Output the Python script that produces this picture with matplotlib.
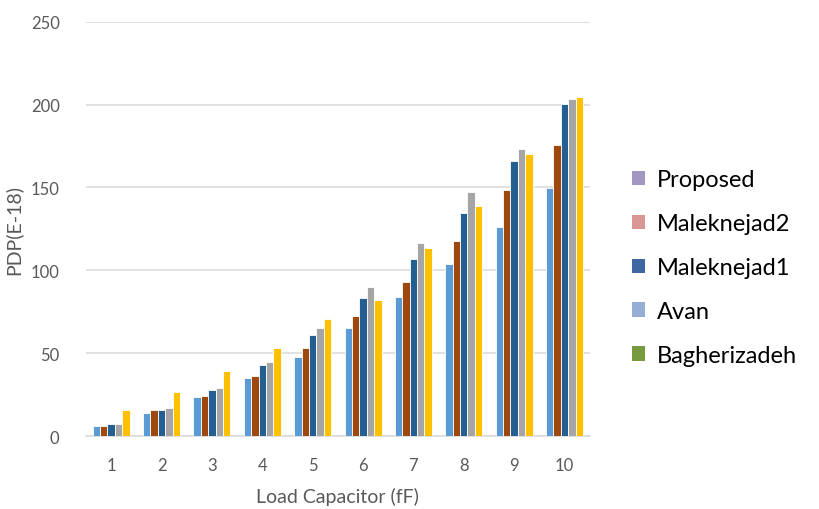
import numpy as np
import matplotlib
matplotlib.use("Agg")
from matplotlib import pyplot as plt
from matplotlib.patches import Patch

plt.rcParams["font.family"] = ["Lato", "DejaVu Sans"]

# data
loads = [1, 2, 3, 4, 5, 6, 7, 8, 9, 10]
s1 = [6.0, 13.7, 23.3, 35.0, 47.8, 65.1, 84.2, 103.6, 126.2, 149.9]
s2 = [6.0, 15.7, 24.3, 36.2, 53.2, 72.6, 92.9, 117.5, 148.7, 175.5]
s3 = [7.2, 15.7, 27.6, 42.7, 60.9, 83.2, 106.8, 134.8, 166.1, 200.3]
s4 = [7.2, 16.9, 28.8, 44.7, 65.1, 89.7, 116.5, 147.5, 173.3, 203.5]
s5 = [15.7, 26.6, 39.2, 53.3, 70.5, 82.2, 113.3, 139.1, 170.1, 204.6]
bar_colors = ["#5B9BD5", "#9E480E", "#255E91", "#A5A5A5", "#FFC000"]

legend_labels = ["Proposed", "Maleknejad2", "Maleknejad1", "Avan", "Bagherizadeh"]
legend_colors = ["#A297C2", "#D99694", "#3F68A2", "#95AED6", "#77993F"]

fig = plt.figure(figsize=(8.19, 5.10), dpi=100)
ax = fig.add_axes([0.105, 0.143, 0.615, 0.8125])

x = np.array(loads)
w = 0.147
for i, s in enumerate([s1, s2, s3, s4, s5]):
    ax.bar(x + (i - 2) * w, s, width=w, color=bar_colors[i],
           edgecolor="white", linewidth=0.6, zorder=3)

ax.set_xlim(0.5, 10.5)
ax.set_ylim(0, 250)
ax.set_yticks(range(0, 251, 50))
ax.set_xticks(loads)
ax.grid(axis="y", color="#D9D9D9", linewidth=1.1, zorder=0)
ax.set_axisbelow(True)
for sp in ["top", "right", "left"]:
    ax.spines[sp].set_visible(False)
ax.spines["bottom"].set_color("#D9D9D9")
ax.spines["bottom"].set_linewidth(1.1)
ax.tick_params(axis="both", length=0, colors="#595959", labelsize=12)
ax.tick_params(axis="y", pad=19)
ax.tick_params(axis="x", pad=15)
ax.set_xlabel("Load Capacitor (fF)", color="#595959", fontsize=14, labelpad=10)
ax.set_ylabel("PDP(E-18)", color="#595959", fontsize=14, labelpad=6)

handles = [Patch(facecolor=c, edgecolor="none") for c in legend_colors]
fig.legend(handles, legend_labels, loc="upper left", bbox_to_anchor=(0.746, 0.708),
           frameon=False, handlelength=0.55, handleheight=0.55,
           handletextpad=0.5, labelspacing=0.97,
           prop={"family": ["Lato", "DejaVu Sans"], "size": 17})

plt.savefig("out.png", dpi=100)
